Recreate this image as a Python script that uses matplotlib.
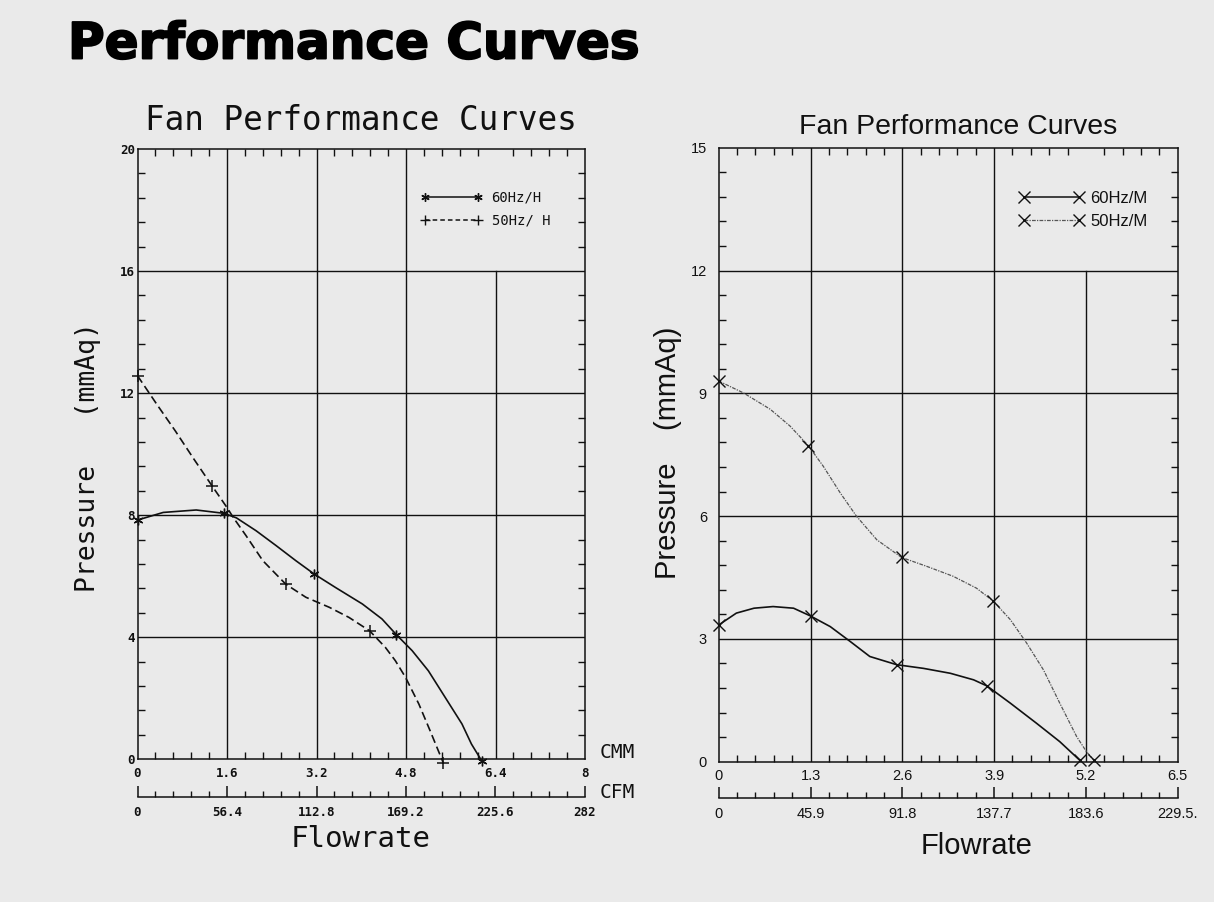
import matplotlib
matplotlib.use("Agg")
import matplotlib.pyplot as plt
import matplotlib.ticker as ticker
import matplotlib.patheffects as pe
from matplotlib.lines import Line2D

# ---- left chart (H speed), flow in CMM, pressure in mmAq ----
h_cmm_ticks   = [0, 1.6, 3.2, 4.8, 6.4, 8]
h_cmm_labels  = ["0", "1.6", "3.2", "4.8", "6.4", "8"]
h_cfm_ticks   = [0, 56.4, 112.8, 169.2, 225.6, 282]
h_cfm_labels  = ["0", "56.4", "112.8", "169.2", "225.6", "282"]
h_p_ticks     = [0, 4, 8, 12, 16, 20]

# marked points
h60_mark_x = [0, 1.55, 3.16, 4.63, 6.15]
h60_mark_y = [7.84, 8.06, 6.07, 4.08, -0.04]
h50_mark_x = [0, 1.34, 2.65, 4.15, 5.47]
h50_mark_y = [12.57, 8.94, 5.74, 4.21, -0.13]

# traced curves
h60_x = [0, 0.46, 1.05, 1.55, 1.77, 2.12, 2.48, 2.83, 3.16, 3.54, 4.02, 4.37,
         4.63, 4.91, 5.2, 5.5, 5.8, 5.97, 6.15]
h60_y = [7.84, 8.09, 8.17, 8.06, 7.91, 7.49, 7.0, 6.51, 6.07, 5.63, 5.09, 4.6,
         4.08, 3.56, 2.9, 2.03, 1.16, 0.5, -0.04]
h50_x = [0, 0.35, 0.68, 1.0, 1.34, 1.6, 1.71, 1.94, 2.24, 2.65, 3.01, 3.43,
         3.78, 4.15, 4.43, 4.61, 4.79, 5.03, 5.23, 5.47]
h50_y = [12.57, 11.62, 10.75, 9.86, 8.94, 8.25, 7.93, 7.33, 6.51, 5.74, 5.31, 4.98,
         4.65, 4.21, 3.67, 3.23, 2.69, 1.81, 0.94, -0.13]

# ---- right chart (M speed) ----
m_cmm_ticks   = [0, 1.3, 2.6, 3.9, 5.2, 6.5]
m_cmm_labels  = ["0", "1.3", "2.6", "3.9", "5.2", "6.5"]
m_cfm_ticks   = [0, 45.9, 91.8, 137.7, 183.6, 229.5]
m_cfm_labels  = ["0", "45.9", "91.8", "137.7", "183.6", "229.5."]
m_p_ticks     = [0, 3, 6, 9, 12, 15]

m60_mark_x = [0, 1.30, 2.52, 3.80, 5.11]
m60_mark_y = [3.34, 3.56, 2.37, 1.85, 0.04]
m50_mark_x = [0, 1.27, 2.59, 3.89, 5.31]
m50_mark_y = [9.30, 7.72, 4.99, 3.92, 0.04]

m60_x = [0, 0.25, 0.5, 0.77, 1.06, 1.30, 1.58, 1.86, 2.14, 2.52, 2.9, 3.28,
         3.61, 3.80, 4.13, 4.5, 4.83, 5.11]
m60_y = [3.34, 3.63, 3.75, 3.79, 3.75, 3.56, 3.30, 2.94, 2.57, 2.37, 2.28, 2.16,
         2.0, 1.85, 1.43, 0.94, 0.49, 0.04]
m50_x = [0, 0.35, 0.73, 1.01, 1.27, 1.48, 1.72, 1.95, 2.24, 2.59, 2.95, 3.32,
         3.65, 3.89, 4.13, 4.36, 4.6, 4.83, 5.07, 5.21, 5.31]
m50_y = [9.30, 9.01, 8.61, 8.2, 7.72, 7.22, 6.57, 6.0, 5.42, 4.99, 4.77, 4.53,
         4.24, 3.92, 3.47, 2.9, 2.24, 1.43, 0.61, 0.24, 0.04]

MONO = "DejaVu Sans Mono"
SANS = "Liberation Sans"
INK  = "#111111"
PAPER = "#eaeaea"

W, H = 1214, 902
fig = plt.figure(figsize=(W / 100, H / 100), dpi=100, facecolor=PAPER)


def px_axes(x0, y0, x1, y1):
    # pixel box (top-left origin) -> figure axes
    return fig.add_axes([x0 / W, 1 - y1 / H, (x1 - x0) / W, (y1 - y0) / H])


def frame(ax, xmax, ymax, xminor, yminor, short_x, short_y):
    ax.set_facecolor("none")
    ax.set_xlim(0, xmax)
    ax.set_ylim(0, ymax)
    for s in ax.spines.values():
        s.set_linewidth(1.1)
        s.set_color(INK)
    ax.xaxis.set_minor_locator(ticker.MultipleLocator(xminor))
    ax.yaxis.set_minor_locator(ticker.MultipleLocator(yminor))
    ax.tick_params(which="minor", direction="in", length=5, width=1.0,
                   top=True, right=True, color=INK)
    ax.tick_params(which="major", direction="in", length=0, color=INK)
    # grid: last vertical line stops at the top horizontal grid line
    for xv in ax.get_xticks()[1:-1]:
        frac = short_y / ymax if xv == short_x else 1.0
        ax.axvline(xv, ymax=frac, color=INK, lw=1.0, zorder=1)
    for yv in ax.get_yticks()[1:-1]:
        ax.axhline(yv, color=INK, lw=1.0, zorder=1)


def cfm_axis(y_px, x0, x1, xmax, ticks, labels, minor, font, size, weight, pad):
    cax = px_axes(x0, y_px - 20, x1, y_px)
    cax.set_facecolor("none")
    for k in ("top", "left", "right"):
        cax.spines[k].set_visible(False)
    cax.spines["bottom"].set_linewidth(1.1)
    cax.spines["bottom"].set_color(INK)
    cax.set_xlim(0, xmax)
    cax.set_yticks([])
    cax.set_xticks(ticks)
    cax.set_xticklabels(labels, fontfamily=font, fontsize=size, fontweight=weight,
                        color=INK)
    cax.xaxis.set_minor_locator(ticker.MultipleLocator(minor))
    cax.tick_params(which="major", direction="in", length=8, width=1.1,
                    pad=pad, color=INK)
    cax.tick_params(which="minor", direction="in", length=4.5, width=1.0,
                    color=INK)
    return cax


# ================= left chart =================
axL = px_axes(137.5, 149, 585, 759.3)
axL.set_xticks(h_cmm_ticks)
axL.set_xticklabels(h_cmm_labels)
axL.set_yticks(h_p_ticks)
frame(axL, 8, 20, 0.32, 0.8, 6.4, 16)
for lab in axL.get_xticklabels() + axL.get_yticklabels():
    lab.set_fontfamily(MONO)
    lab.set_fontsize(9)
    lab.set_fontweight("bold")
    lab.set_color(INK)
axL.tick_params(axis="x", which="major", pad=5.5)
axL.tick_params(axis="y", which="major", pad=1.8)

axL.plot(h60_x, h60_y, color=INK, lw=1.2, zorder=3, clip_on=False)
axL.plot(h50_x, h50_y, color=INK, lw=1.2, ls=(0, (5, 2.5)), zorder=3, clip_on=False)
axL.plot(h60_mark_x, h60_mark_y, ls="none", marker=(6, 2, 0), ms=7, mew=1.0,
         color=INK, zorder=4, clip_on=False)
axL.plot(h50_mark_x, h50_mark_y, ls="none", marker="+", ms=8, mew=1.1,
         color=INK, zorder=4, clip_on=False)

hL = [Line2D([], [], color=INK, lw=1.1, marker=(6, 2, 0), ms=6, mew=1.0),
      Line2D([], [], color=INK, lw=1.1, ls=(0, (3, 2)), marker="+", ms=7, mew=1.0)]
legL = axL.legend(hL, ["60Hz/H", "50Hz/ H"], numpoints=2, frameon=False,
                  loc="upper left", bbox_to_anchor=(0.633, 0.932),
                  borderpad=0, borderaxespad=0, handlelength=4.4,
                  handletextpad=0.7, labelspacing=0.65,
                  prop={"family": MONO, "size": 10})
for t in legL.get_texts():
    t.set_color(INK)

axL.set_xlabel("Flowrate", fontfamily=MONO, fontsize=21, color=INK)
axL.xaxis.set_label_coords(0.4988, -0.1298)
axL.xaxis.label.set_va("center")
axL.set_ylabel("Pressure   (mmAq)", fontfamily=MONO, fontsize=19, color=INK)
axL.yaxis.set_label_coords(-0.1116, 0.495)
axL.yaxis.label.set_va("center")

cfm_axis(797, 137.5, 585, 282, h_cfm_ticks, h_cfm_labels, 11.28, MONO, 9, "bold", 6.3)

fig.text(600 / W, 1 - 752 / H, "CMM", fontfamily=MONO, fontsize=14,
         ha="left", va="center", color=INK)
fig.text(600 / W, 1 - 792 / H, "CFM", fontfamily=MONO, fontsize=14,
         ha="left", va="center", color=INK)
fig.text(360.5 / W, 1 - 130 / H, "Fan Performance Curves", fontfamily=MONO,
         fontsize=23.5, ha="center", va="baseline", color=INK)

# ================= right chart =================
axR = px_axes(718.7, 147.7, 1177.7, 761.7)
axR.set_xticks(m_cmm_ticks)
axR.set_xticklabels(m_cmm_labels)
axR.set_yticks(m_p_ticks)
frame(axR, 6.5, 15, 0.26, 0.6, 5.2, 12)
for lab in axR.get_xticklabels() + axR.get_yticklabels():
    lab.set_fontfamily(SANS)
    lab.set_fontsize(10.5)
    lab.set_color(INK)
axR.tick_params(axis="x", which="major", pad=5.3)
axR.tick_params(axis="y", which="major", pad=8.5)

axR.plot(m60_x, m60_y, color=INK, lw=1.2, zorder=3, clip_on=False)
axR.plot(m50_x, m50_y, color="#555555", lw=0.9, ls=(0, (3, 1, 1, 1)), zorder=3,
         clip_on=False)
axR.plot(m60_mark_x, m60_mark_y, ls="none", marker="x", ms=9, mew=1.0,
         color=INK, zorder=4, clip_on=False)
axR.plot(m50_mark_x, m50_mark_y, ls="none", marker="x", ms=9, mew=1.0,
         color=INK, zorder=4, clip_on=False)

hR = [Line2D([], [], color=INK, lw=1.1, marker="x", ms=9, mew=1.0),
      Line2D([], [], color="#555555", lw=0.9, ls=(0, (3, 1, 1, 1)), marker="x",
             ms=9, mew=1.0, mec=INK)]
legR = axR.legend(hR, ["60Hz/M", "50Hz/M"], numpoints=2, frameon=False,
                  loc="upper left", bbox_to_anchor=(0.655, 0.929),
                  borderpad=0, borderaxespad=0, handlelength=3.85,
                  handletextpad=0.4, labelspacing=0.45,
                  prop={"family": SANS, "size": 12})
for t in legR.get_texts():
    t.set_color(INK)

axR.set_xlabel("Flowrate", fontfamily=SANS, fontsize=21, color=INK)
axR.xaxis.set_label_coords(0.5619, -0.137)
axR.xaxis.label.set_va("center")
axR.set_ylabel("Pressure    (mmAq)", fontfamily=SANS, fontsize=21, color=INK)
axR.yaxis.set_label_coords(-0.1115, 0.503)
axR.yaxis.label.set_va("center")

cfm_axis(797.7, 718.7, 1177.7, 229.5, m_cfm_ticks, m_cfm_labels, 9.18, SANS, 10.5,
         "normal", 6.5)

fig.text(958.6 / W, 1 - 134.3 / H, "Fan Performance Curves", fontfamily=SANS,
         fontsize=20.5, ha="center", va="baseline", color=INK)

# ================= page title =================
fig.text(68 / W, 1 - 58.5 / H, "Performance Curves", fontfamily="DejaVu Sans",
         fontsize=36, fontweight="bold", ha="left", va="baseline", color="#000000",
         path_effects=[pe.withStroke(linewidth=1.4, foreground="#000000")])

fig.savefig("out.png", dpi=100, facecolor=PAPER)
